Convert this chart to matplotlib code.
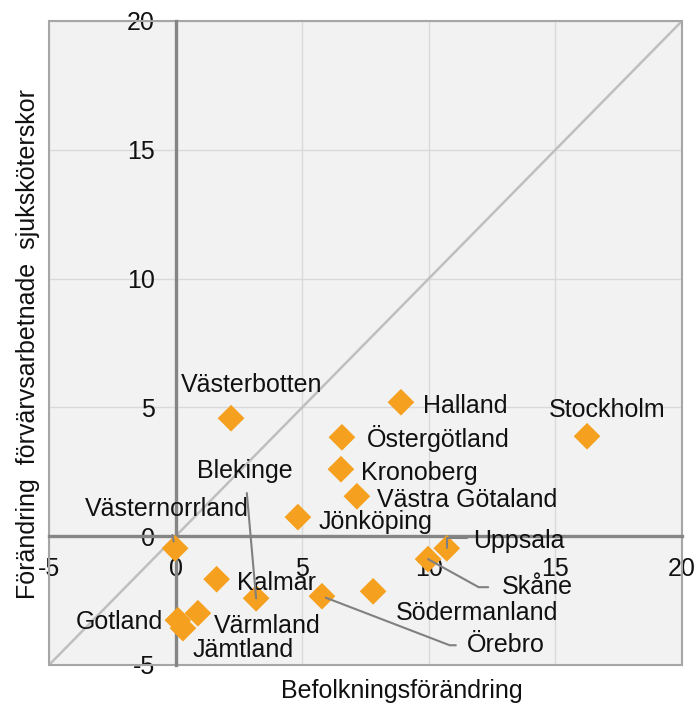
import numpy as np
import matplotlib.pyplot as plt
from matplotlib.patches import Rectangle

# Förändring per län (procent)
lan = ['Västerbotten', 'Halland', 'Östergötland', 'Stockholm', 'Kronoberg',
       'Västra Götaland', 'Jönköping', 'Västernorrland', 'Uppsala', 'Skåne',
       'Kalmar', 'Blekinge', 'Örebro', 'Södermanland', 'Värmland',
       'Gotland', 'Jämtland']
befolkning = [2.19, 8.90, 6.57, 16.25, 6.53,
              7.16, 4.83, -0.02, 10.71, 9.97,
              1.62, 3.18, 5.78, 7.80, 0.88,
              0.09, 0.29]
sjukskoterskor = [4.58, 5.20, 3.84, 3.88, 2.60,
                  1.55, 0.74, -0.47, -0.47, -0.89,
                  -1.67, -2.41, -2.33, -2.14, -2.99,
                  -3.26, -3.57]

ticks = [-5, 0, 5, 10, 15, 20]

# etikettplacering: förskjutning i punkter, justering
etiketter = {
    'Västerbotten': ((-36, 23.8), 'left'),
    'Halland': ((15.8, -2.9), 'left'),
    'Östergötland': ((18, -0.7), 'left'),
    'Stockholm': ((-27.4, 18.7), 'left'),
    'Kronoberg': ((14.4, -2.9), 'left'),
    'Västra Götaland': ((14.4, -2.9), 'left'),
    'Jönköping': ((15.1, -3.6), 'left'),
    'Västernorrland': ((-64.8, 28.1), 'left'),
    'Uppsala': ((18.9, 5), 'left'),
    'Skåne': ((53.3, -20.2), 'left'),
    'Kalmar': ((14.4, -2.9), 'left'),
    'Blekinge': ((-42.5, 91.4), 'left'),
    'Örebro': ((104.4, -35.3), 'left'),
    'Södermanland': ((16.6, -15.8), 'left'),
    'Värmland': ((11.5, -9.4), 'left'),
    'Gotland': ((-10.8, -1.4), 'right'),
    'Jämtland': ((7.2, -15.8), 'left'),
}

# hänvisningslinjer
linjegra = '#808080'
hanvisning = {
    'Blekinge': dict(arrowstyle='-', color=linjegra, lw=1.5,
                     shrinkA=5, shrinkB=0),
    'Västernorrland': dict(arrowstyle='-', color=linjegra, lw=1.5,
                           shrinkA=8, shrinkB=5),
    'Örebro': dict(arrowstyle='-', color=linjegra, lw=1.5, shrinkA=6,
                   shrinkB=3, relpos=(0, 0.5),
                   connectionstyle='angle,angleA=180,angleB=-21,rad=0'),
    'Skåne': dict(arrowstyle='-', color=linjegra, lw=1.5, shrinkA=8,
                  shrinkB=0, relpos=(0, 0.5),
                  connectionstyle='angle,angleA=180,angleB=-29,rad=0'),
    'Uppsala': dict(arrowstyle='-', color=linjegra, lw=1.5, shrinkA=2,
                    shrinkB=0, relpos=(0, 0.65),
                    connectionstyle='angle,angleA=180,angleB=90,rad=0'),
}

plt.rcParams['font.family'] = ['Liberation Sans', 'DejaVu Sans']
plt.rcParams['font.size'] = 18
plt.rcParams['axes.unicode_minus'] = False

fig = plt.figure(figsize=(6.97, 7.05), dpi=100)
ax = fig.add_axes([49 / 697, 40 / 705, 633 / 697, 644 / 705])
ax.set_facecolor('#f2f2f2')

ax.set_xlim(-5, 20)
ax.set_ylim(-5, 20)
ax.set_xticks(ticks)
ax.set_yticks(ticks)
ax.grid(color='#d9d9d9', lw=1)
ax.set_axisbelow(True)

# axlar genom origo, som i Excel
for s in ['left', 'bottom']:
    ax.spines[s].set_position(('data', 0))
    ax.spines[s].set_color('#858585')
    ax.spines[s].set_linewidth(2.4)
for s in ['top', 'right']:
    ax.spines[s].set_visible(False)
ax.add_patch(Rectangle((0, 0), 1, 1, transform=ax.transAxes, fill=False,
                       edgecolor='#a6a6a6', lw=1.5, zorder=2.4, clip_on=False))
ax.tick_params(length=0, pad=15, labelsize=18, colors='#111111')

# 45-graderslinje
ax.axline((0, 0), slope=1, color='#bfbfbf', lw=1.8, zorder=1.5)

ax.scatter(befolkning, sjukskoterskor, marker='D', s=185, color='#f5a01e',
           edgecolors='none', zorder=3)

for namn, x, y in zip(lan, befolkning, sjukskoterskor):
    (dx, dy), ha = etiketter[namn]
    ax.annotate(namn, (x, y), xytext=(dx, dy), textcoords='offset points',
                ha=ha, va='center', fontsize=18, color='#111111',
                arrowprops=hanvisning.get(namn), zorder=4)

fig.text(402 / 697, 1 - 691 / 705, 'Befolkningsförändring',
         ha='center', va='center', fontsize=18, color='#111111')
fig.text(28 / 697, 1 - 344 / 705,
         'Förändring  förvärvsarbetnade  sjuksköterskor', rotation=90,
         ha='center', va='center', fontsize=18, color='#111111')

fig.savefig('out.png', dpi=100)
